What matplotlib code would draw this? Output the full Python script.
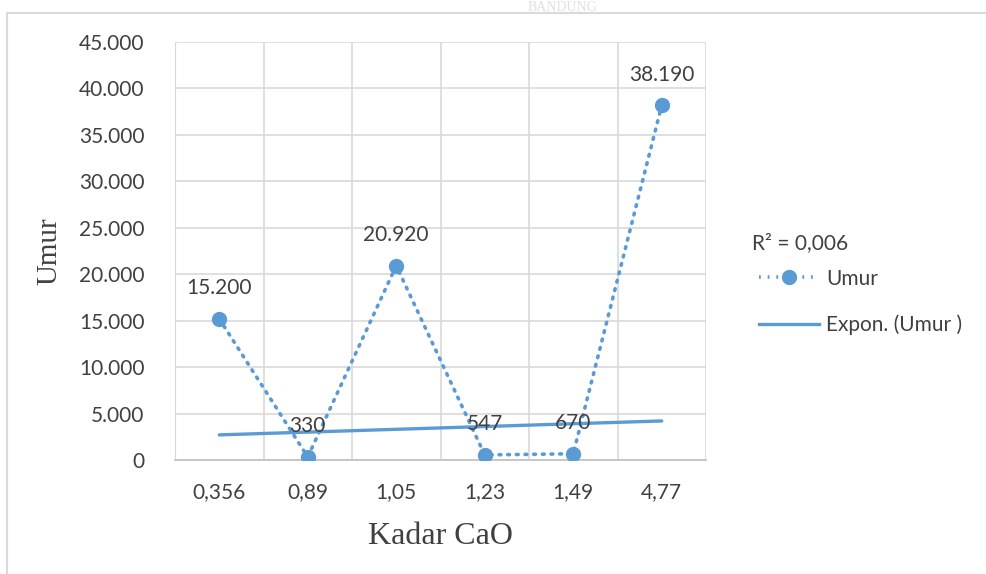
import numpy as np
import matplotlib
matplotlib.use('Agg')
import matplotlib.pyplot as plt
from matplotlib.lines import Line2D
from matplotlib.patches import Rectangle

kadar_cao = ['0,356', '0,89', '1,05', '1,23', '1,49', '4,77']
umur = [15200, 330, 20920, 547, 670, 38190]
y_ticks = [0, 5000, 10000, 15000, 20000, 25000, 30000, 35000, 40000, 45000]

blue = '#5B9BD5'
grid_c = '#D9D9D9'
txt_c = '#404040'

def fmt(v):
    return '{:,}'.format(v).replace(',', '.')

plt.rcParams['font.family'] = ['Lato', 'DejaVu Sans']

fig = plt.figure(figsize=(9.87, 5.74), dpi=100)
ax = fig.add_axes([175/987, 114/574, 531/987, 418/574])

x = np.arange(1, len(umur) + 1)

# garis tren eksponensial (seperti Excel)
b, a = np.polyfit(x, np.log(umur), 1)
xt = np.array([x[0], x[-1]], dtype=float)
ax.plot(xt, np.exp(a + b * xt), color=blue, lw=2.4, solid_capstyle='round', zorder=3)

ax.plot(x, umur, color=blue, ls=(0, (0.5, 1.9)), lw=2.6, dash_capstyle='round',
        marker='o', ms=10, zorder=4)

for xi, v in zip(x, umur):
    ax.annotate(fmt(v), (xi, v), xytext=(0, 22), textcoords='offset points',
                ha='center', va='center', fontsize=15, color=txt_c, zorder=5)

ax.set_xlim(0.5, len(umur) + 0.5)
ax.set_ylim(0, 45000)
ax.set_yticks(y_ticks)
ax.set_yticklabels([fmt(v) for v in y_ticks])
ax.set_xticks(x)
ax.set_xticklabels(kadar_cao)
ax.set_xticks(np.arange(0.5, len(umur) + 1), minor=True)
ax.tick_params(axis='both', which='both', length=0, labelsize=15, labelcolor=txt_c)
ax.tick_params(axis='y', pad=22)
ax.tick_params(axis='x', pad=16)
ax.grid(True, axis='y', color=grid_c, lw=1.2)
ax.grid(True, axis='x', which='minor', color=grid_c, lw=1.2)
ax.grid(False, axis='x', which='major')
ax.set_axisbelow(True)
for s in ['top', 'right']:
    ax.spines[s].set_visible(False)
ax.spines['left'].set_color(grid_c)
ax.spines['bottom'].set_color('#BFBFBF')
ax.spines['bottom'].set_linewidth(1.2)

ax.set_xlabel('Kadar CaO', family='Liberation Serif', fontsize=23, color=txt_c, labelpad=14)
ax.set_ylabel('Umur', family='Liberation Serif', fontsize=21, color=txt_c, labelpad=12)

# legenda
fig.text(752/987, 1 - 243/574, 'R² = 0,006', fontsize=15, color=txt_c, va='center')
h1 = Line2D([], [], color=blue, ls=(0, (0.5, 1.9)), lw=2.6, marker='o', ms=10)
h2 = Line2D([], [], color=blue, lw=2.4)
fig.legend([h1, h2], ['Umur', 'Expon. (Umur )'], loc='upper left',
           bbox_to_anchor=(740/987, 1 - 250/574), frameon=False, fontsize=15,
           labelcolor=txt_c, handlelength=2.9, handletextpad=0.35, labelspacing=1.25)

# bingkai chart
fig.patches.append(Rectangle((7/987, -0.1), 1.2, 1 - 13/574 + 0.1, transform=fig.transFigure,
                             fill=False, edgecolor=grid_c, lw=1.5))
fig.text(0.57, 0.999, 'BANDUNG', family='Liberation Serif', fontsize=10, color='#E0E0E0',
         ha='center', va='top')

fig.savefig('out.png', dpi=100)
